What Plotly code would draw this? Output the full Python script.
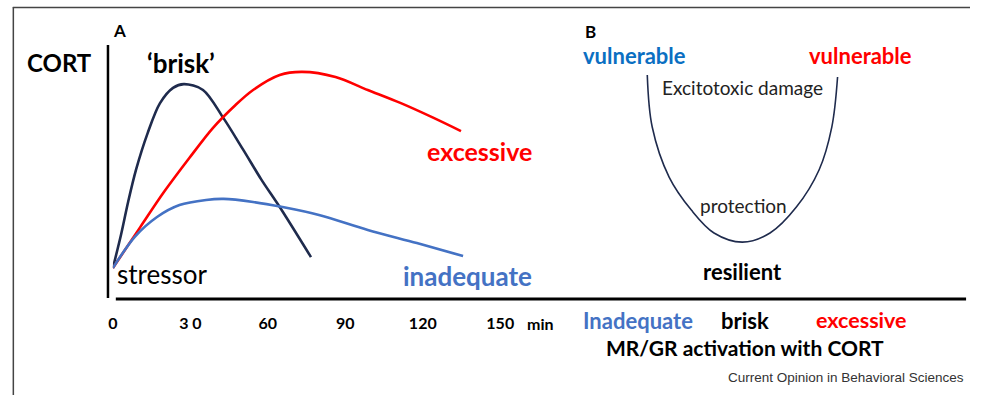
import plotly.graph_objects as go

W, H = 984, 395

# ---- Panel A data: CORT response over time (minutes, arbitrary CORT units) ----
brisk_t = [0, 3.2, 5.9, 9.0, 13.5, 18.2, 23.3, 27.5, 34.9, 42.5, 50.5, 57.5, 64.6, 76.7]
brisk_v = [12.2, 25.5, 38.2, 51.0, 65.4, 77.0, 83.1, 84.6, 82.3, 71.7, 58.7, 47.0, 36.2, 16.5]

excessive_t = [0, 10.6, 19.7, 29.6, 38.7, 47.5, 54.3, 64.6, 73.3, 86.2, 98.7, 111.3, 124.2, 134.8]
excessive_v = [12.2, 28.3, 42.0, 55.5, 67.3, 76.4, 82.3, 88.2, 89.4, 87.4, 82.3, 77.2, 71.3, 66.1]

inadequate_t = [0, 8.4, 17.1, 25.8, 36.1, 42.9, 54.3, 65.7, 79.8, 98.7, 117.7, 135.6]
inadequate_v = [12.2, 24.4, 32.3, 37.0, 39.0, 39.4, 38.2, 36.2, 33.1, 27.2, 22.0, 16.9]

tick_vals = [0, 30, 60, 90, 120, 150]
tick_text = ["0", "3 0", "60", "90", "120", "150"]

# ---- Panel B data: U-shaped vulnerability vs MR/GR activation ----
u_x = [22.6, 23.8, 27.9, 33.3, 38.8, 45.7, 52.4, 58.8, 64.3, 67.4, 68.8]
u_y = [88.2, 67.7, 48.0, 35.0, 26.0, 22.4, 26.0, 36.2, 50.8, 67.7, 87.4]

NAVY = "#1f2b4d"
RED = "#ff0000"
BLUE = "#4472c4"
VBLUE = "#0b6fc2"
FONT = "Lato"


def P(x):
    return x / W


def Q(y):
    return 1 - y / H


fig = go.Figure()
fig.add_trace(go.Scatter(x=brisk_t, y=brisk_v, mode="lines",
                         line=dict(color=NAVY, width=2.6, shape="spline", smoothing=0.9)))
fig.add_trace(go.Scatter(x=excessive_t, y=excessive_v, mode="lines",
                         line=dict(color=RED, width=2.6, shape="spline", smoothing=0.9)))
fig.add_trace(go.Scatter(x=inadequate_t, y=inadequate_v, mode="lines",
                         line=dict(color=BLUE, width=2.6, shape="spline", smoothing=0.9)))
fig.add_trace(go.Scatter(x=u_x, y=u_y, mode="lines", xaxis="x2", yaxis="y2",
                         line=dict(color=NAVY, width=1.6, shape="spline", smoothing=1.0)))

ydom = [Q(299), Q(45)]

fig.update_layout(
    width=W, height=H, autosize=False,
    margin=dict(l=0, r=0, t=0, b=0),
    paper_bgcolor="white", plot_bgcolor="rgba(0,0,0,0)",
    showlegend=False,
    font=dict(family=FONT, color="black"),
    xaxis=dict(domain=[P(110), P(505)], range=[0, 150], showgrid=False, zeroline=False,
               showline=False, tickvals=tick_vals, ticktext=tick_text, ticks="",
               ticklabelstandoff=13,
               tickfont=dict(family=FONT, size=16, color="black", weight="bold")),
    yaxis=dict(domain=ydom, range=[0, 100], showgrid=False, zeroline=False,
               showline=False, showticklabels=False, ticks=""),
    xaxis2=dict(domain=[P(560), P(980)], range=[0, 100], showgrid=False, zeroline=False,
                showline=False, showticklabels=False, ticks="", anchor="y2"),
    yaxis2=dict(domain=ydom, range=[0, 100], showgrid=False, zeroline=False,
                showline=False, showticklabels=False, ticks="", anchor="x2"),
)

# frame and axis lines
shapes = [
    dict(type="line", xref="paper", yref="paper", x0=P(8), x1=1.0, y0=Q(7.5), y1=Q(7.5),
         line=dict(color="#444", width=1.5)),
    dict(type="line", xref="paper", yref="paper", x0=P(8.5), x1=P(8.5), y0=Q(7), y1=0,
         line=dict(color="#444", width=1.5)),
    dict(type="line", xref="paper", yref="paper", x0=P(105), x1=P(105), y0=Q(298), y1=Q(45),
         line=dict(color="black", width=2.5)),
    dict(type="line", xref="paper", yref="paper", x0=P(113), x1=P(980), y0=Q(299), y1=Q(299),
         line=dict(color="black", width=3)),
]
fig.update_layout(shapes=shapes)


def ann(text, x, y, size, color="black", bold=True, xanchor="center", family=FONT):
    fig.add_annotation(text=("<b>%s</b>" % text) if bold else text,
                       x=P(x), y=Q(y), xref="paper", yref="paper",
                       xanchor=xanchor, yanchor="middle", showarrow=False,
                       font=dict(family=family, size=size, color=color))


ann("A", 117, 31, 17)
ann("B", 597, 32, 17)
ann("CORT", 56, 63, 24)
ann("\u2018brisk\u2019", 179, 63, 26)
ann("excessive", 484, 151, 25, RED)
ann("inadequate", 472, 276, 26, BLUE)
ann("stressor", 160, 274, 26, bold=False)
ann("min", 546, 323, 16)
ann("vulnerable", 642, 56, 22, VBLUE)
ann("vulnerable", 872, 56, 22, RED)
ann("Excitotoxic damage", 752, 88, 19, "#222", bold=False)
ann("protection", 753, 205, 19, "#222", bold=False)
ann("resilient", 752, 271, 22)
ann("Inadequate", 645, 320, 22, BLUE)
ann("brisk", 755, 320, 22)
ann("excessive", 873, 320, 21.5, RED)
ann("MR/GR activation with CORT", 755, 347, 21)
ann("Current Opinion in Behavioral Sciences", 980, 377, 13.5, "#333", bold=False,
    xanchor="right", family="Liberation Sans")

fig.write_html(
    "out.html",
    config={"displayModeBar": False, "responsive": False},
    post_script=(
        "document.documentElement.style.margin='0';"
        "document.documentElement.style.overflow='hidden';"
        "document.body.style.margin='0';document.body.style.padding='0';"
        "document.body.style.overflow='hidden';"
    ),
)
